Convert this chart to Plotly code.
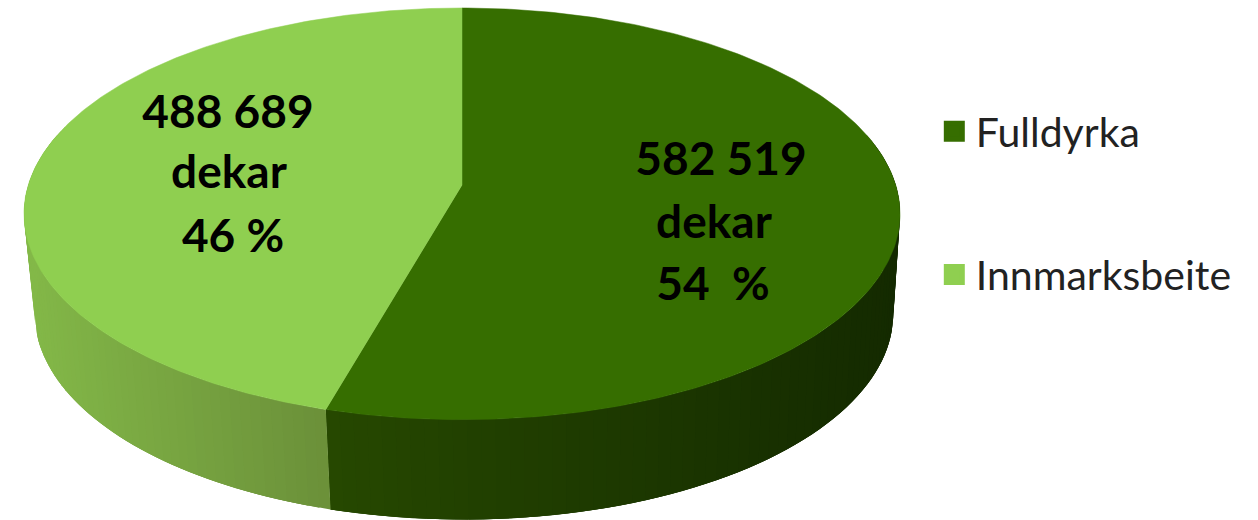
import numpy as np
import plotly.graph_objects as go

# --- data ---
categories = ["Fulldyrka", "Innmarksbeite"]
values = [582519, 488689]
label_lines = [["582 519", "dekar", "54  %"], ["488 689", "dekar", "46 %"]]
label_x = [[721, 714, 713], [228, 229, 233]]
label_y = [[163, 226, 288], [116, 176, 240]]
top_colors = ["#366E00", "#8FCF50"]
side_left = [(38, 72, 0), (131, 184, 72)]
side_right = [(20, 42, 0), (107, 144, 57)]
side_x_span = [(327, 900), (24, 327)]

# --- projection of the tilted pie ---
CX, CY, A, B, P = 462.0, 185.0, 433.7, 201.8, 0.14
DEPTH, BASE_SCALE, BASE_SHIFT = 100.0, 0.98, 2.0


def project(theta, scale=1.0, dy=0.0, dx=0.0):
    xx, yy = np.sin(theta), np.cos(theta)
    d = 1 + P * yy
    return CX + dx + scale * A * xx / d, CY + dy - B * yy / d


fractions = np.array(values) / sum(values)
edges = 2 * np.pi * np.concatenate([[0], np.cumsum(fractions)])

fig = go.Figure()

# side wall (drawn first): overlapping strips so the shading has no seams
for i in range(len(values)):
    th = np.linspace(edges[i], edges[i + 1], 121)
    step = th[1] - th[0]
    for j in range(len(th) - 1):
        t0 = th[j]
        t1 = min(th[j + 1] + 2 * step, edges[i + 1])
        tm = th[j] + step / 2
        if np.cos(tm) > 0.25:
            continue
        ts = np.linspace(t0, t1, 4)
        xt, yt = project(ts)
        xb, yb = project(ts[::-1], BASE_SCALE, DEPTH, BASE_SHIFT)
        xm = float(project(tm)[0])
        lo, hi = side_x_span[i]
        f = float(np.clip((xm - lo) / (hi - lo), 0, 1))
        rgb = [round(side_left[i][k] + f * (side_right[i][k] - side_left[i][k])) for k in range(3)]
        col = f"rgb({rgb[0]},{rgb[1]},{rgb[2]})"
        fig.add_trace(go.Scatter(
            x=np.concatenate([xt, xb, xt[:1]]), y=np.concatenate([yt, yb, yt[:1]]), mode="lines",
            fill="toself", fillcolor=col, line=dict(color=col, width=0),
            hoverinfo="skip", showlegend=False))

# top faces
for i in range(len(values)):
    th = np.linspace(edges[i], edges[i + 1], 240)
    x, y = project(th)
    fig.add_trace(go.Scatter(
        x=np.concatenate([[CX], x, [CX]]), y=np.concatenate([[CY], y, [CY]]),
        mode="lines", fill="toself", fillcolor=top_colors[i],
        line=dict(color=top_colors[i], width=0.5), name=categories[i],
        hoverinfo="name", showlegend=False))

# data labels
for i in range(len(values)):
    fig.add_trace(go.Scatter(
        x=label_x[i], y=label_y[i], mode="text", text=label_lines[i],
        textposition="middle center",
        textfont=dict(family="Lato", size=46, color="#000000", weight="bold"),
        hoverinfo="skip", showlegend=False))

# legend entries
for i in range(len(values)):
    fig.add_trace(go.Scatter(
        x=[None], y=[None], mode="markers", name=categories[i], legendgroup=categories[i],
        marker=dict(symbol="square", size=16, color=top_colors[i],
                    line=dict(color=top_colors[i], width=5))))

fig.update_layout(
    width=1258, height=520, margin=dict(l=0, r=0, t=0, b=0),
    paper_bgcolor="white", plot_bgcolor="white",
    xaxis=dict(range=[0, 1258], visible=False, fixedrange=True),
    yaxis=dict(range=[520, 0], visible=False, fixedrange=True),
    legend=dict(x=0.7415, y=0.8115, xanchor="left", yanchor="top", tracegroupgap=87,
                itemwidth=33, itemsizing="trace", itemclick=False, itemdoubleclick=False,
                font=dict(family="Lato", size=41, color="#222222"),
                bgcolor="rgba(0,0,0,0)"),
)

fig.write_html("out.html", config={"displayModeBar": False},
               post_script="document.body.style.margin='0';")
